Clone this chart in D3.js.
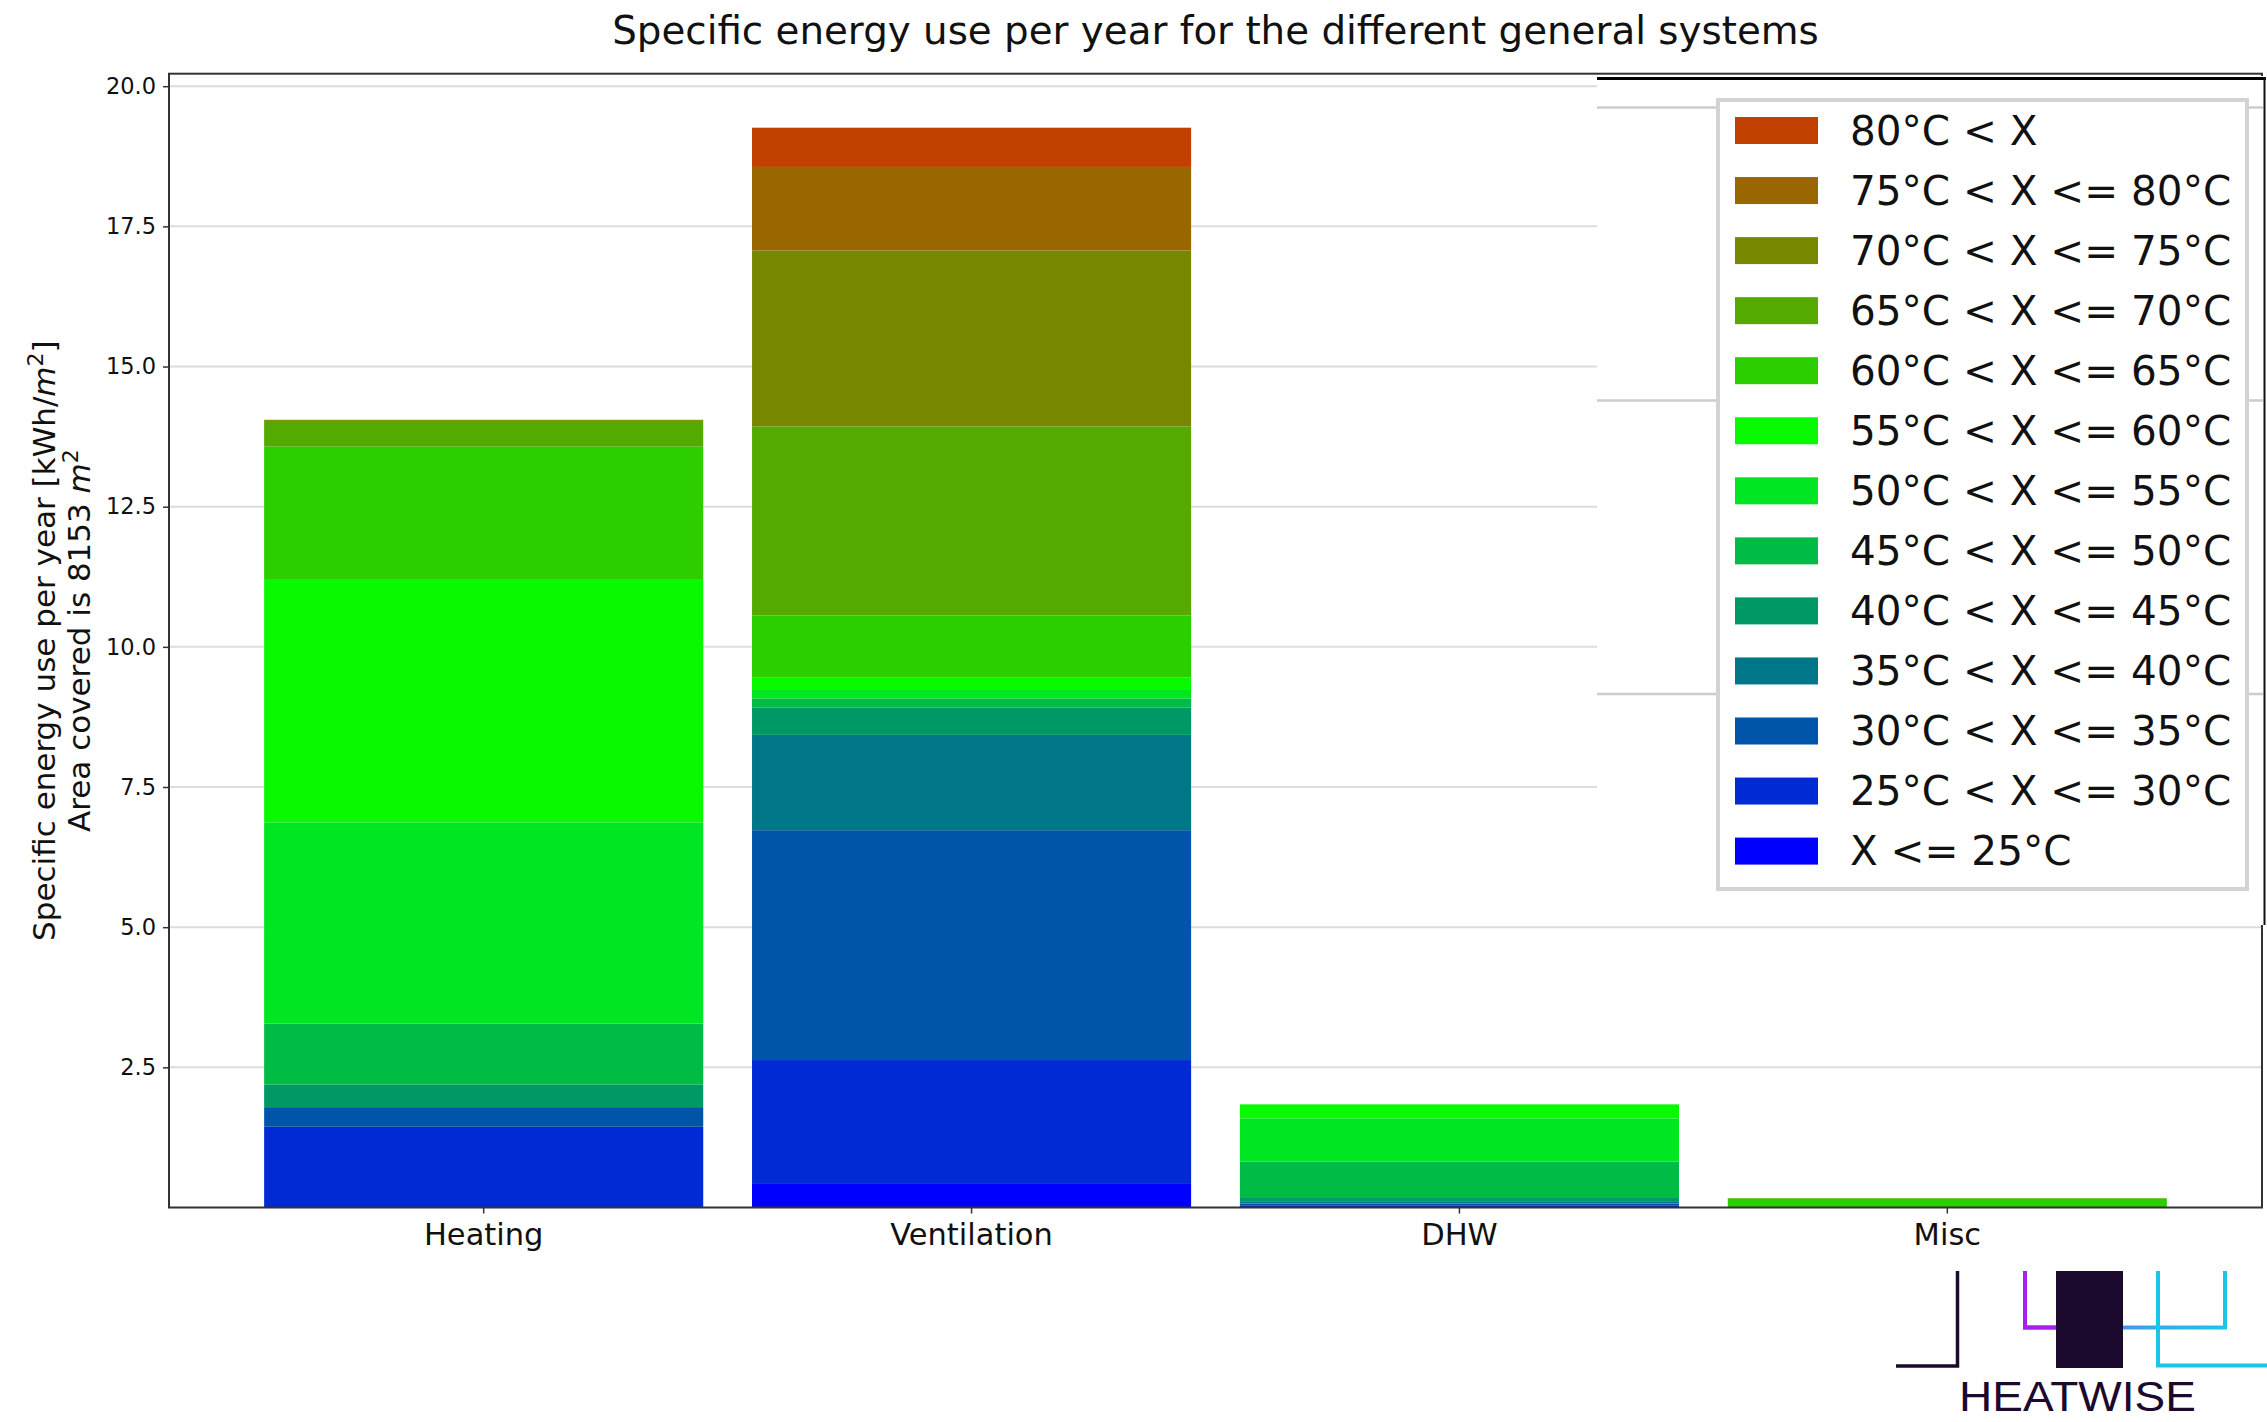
<!DOCTYPE html>
<html>
<head>
<meta charset="utf-8">
<script src="https://cdn.jsdelivr.net/npm/d3@7"></script>
<style>
  html, body { margin: 0; padding: 0; background: #fff; }
  svg { display: block; font-family: "DejaVu Sans", sans-serif; }
</style>
</head>
<body>
<div id="chart"></div>
<script>
// values, kWh/m2 per temperature band (bottom of stack first)
const categories = ['Heating', 'Ventilation', 'DHW', 'Misc'];
const bins = [
  'X <= 25°C', '25°C < X <= 30°C', '30°C < X <= 35°C', '35°C < X <= 40°C',
  '40°C < X <= 45°C', '45°C < X <= 50°C', '50°C < X <= 55°C', '55°C < X <= 60°C',
  '60°C < X <= 65°C', '65°C < X <= 70°C', '70°C < X <= 75°C', '75°C < X <= 80°C',
  '80°C < X'
];
const binColors = [
  '#0000ff', '#002ad4', '#0055aa', '#007788', '#009966', '#00bb44', '#00e622',
  '#08f900', '#2dce00', '#55aa00', '#778800', '#996600', '#c04000'
];
const heating     = [0, 1.44, 0.35, 0, 0.40, 1.09, 3.59, 4.34, 2.36, 0.46, 0.02, 0, 0];
const ventilation = [0.42, 2.21, 4.10, 1.70, 0.49, 0.16, 0.15, 0.22, 1.11, 3.37, 3.14, 1.49, 0.70];
const dhw         = [0, 0.03, 0.04, 0.03, 0.07, 0.65, 0.77, 0.25, 0, 0, 0, 0, 0];
const misc        = [0, 0, 0, 0, 0, 0, 0, 0, 0.16, 0.01, 0, 0, 0];
const yTicks = [2.5, 5, 7.5, 10, 12.5, 15, 17.5, 20];

const W = 2267, H = 1422;
const plot = { left: 169, right: 2262, top: 73.7, bottom: 1207.5 };

const seriesBySystem = { Heating: heating, Ventilation: ventilation, DHW: dhw, Misc: misc };
const table = categories.map((c) => {
  const row = { system: c };
  bins.forEach((b, i) => { row[b] = seriesBySystem[c][i]; });
  return row;
});
const stacked = d3.stack().keys(bins)(table);
const maxTotal = d3.max(table, (r) => d3.sum(bins, (b) => r[b]));

const x = d3.scaleBand()
  .domain(categories)
  .range([plot.left, plot.right])
  .paddingInner(0.1)
  .paddingOuter(0.195);

const y = d3.scaleLinear()
  .domain([0, maxTotal * 1.05])
  .range([plot.bottom, plot.top]);

const color = d3.scaleOrdinal().domain(bins).range(binColors);

const svg = d3.select('#chart').append('svg')
  .attr('width', W).attr('height', H);

// grid
svg.append('g').selectAll('line')
  .data(yTicks).enter().append('line')
  .attr('x1', plot.left).attr('x2', plot.right)
  .attr('y1', (d) => y(d)).attr('y2', (d) => y(d))
  .attr('stroke', '#dcdcdc').attr('stroke-width', 2);

// bars
svg.append('g').selectAll('g')
  .data(stacked).enter().append('g')
  .attr('fill', (d) => color(d.key))
  .selectAll('rect')
  .data((d) => d).enter().append('rect')
  .attr('x', (d) => x(d.data.system))
  .attr('width', x.bandwidth())
  .attr('y', (d) => y(d[1]))
  .attr('height', (d) => Math.max(0, y(d[0]) - y(d[1])));

// axes
const yAxis = d3.axisLeft(y).tickValues(yTicks).tickFormat(d3.format('.1f')).tickSizeOuter(0).tickSize(6).tickPadding(7);
const gy = svg.append('g').attr('transform', `translate(${plot.left},0)`).call(yAxis);
gy.select('.domain').remove();
gy.selectAll('.tick line').attr('stroke', '#333').attr('stroke-width', 1.5);
gy.selectAll('.tick text').attr('font-size', 22.5).attr('fill', '#111')
  .attr('font-family', 'DejaVu Sans');

const xAxis = d3.axisBottom(x).tickSizeOuter(0).tickSize(6).tickPadding(10);
const gx = svg.append('g').attr('transform', `translate(0,${plot.bottom})`).call(xAxis);
gx.select('.domain').remove();
gx.selectAll('.tick line').attr('stroke', '#333').attr('stroke-width', 1.5);
gx.selectAll('.tick text').attr('font-size', 30.5).attr('fill', '#111')
  .attr('font-family', 'DejaVu Sans');

// frame
svg.append('rect')
  .attr('x', plot.left).attr('y', plot.top)
  .attr('width', plot.right - plot.left).attr('height', plot.bottom - plot.top)
  .attr('fill', 'none').attr('stroke', '#333').attr('stroke-width', 2);

// title
svg.append('text')
  .attr('x', (plot.left + plot.right) / 2).attr('y', 44)
  .attr('text-anchor', 'middle').attr('font-size', 38.8).attr('fill', '#111')
  .text('Specific energy use per year for the different general systems');

// y label (two lines)
const yc = (plot.top + plot.bottom) / 2;
const yl1 = svg.append('text')
  .attr('transform', `translate(55,${yc}) rotate(-90)`)
  .attr('text-anchor', 'middle').attr('font-size', 31).attr('fill', '#111');
yl1.append('tspan').text('Specific energy use per year [kWh/');
yl1.append('tspan').attr('font-style', 'italic').text('m');
yl1.append('tspan').attr('font-size', 22).attr('dy', -12).text('2');
yl1.append('tspan').attr('dy', 12).text(']');

const yl2 = svg.append('text')
  .attr('transform', `translate(90,${yc}) rotate(-90)`)
  .attr('text-anchor', 'middle').attr('font-size', 31).attr('fill', '#111');
yl2.append('tspan').text('Area covered is 8153 ');
yl2.append('tspan').attr('font-style', 'italic').text('m');
yl2.append('tspan').attr('font-size', 22).attr('dy', -12).text('2');

// legend panel (pasted in over the upper right of the axes)
const panel = svg.append('g');
panel.append('rect').attr('x', 1597).attr('y', 76).attr('width', W - 1597).attr('height', 925 - 76)
  .attr('fill', '#fff');
panel.selectAll('line.pg').data([107.5, 400.5, 694]).enter().append('line')
  .attr('class', 'pg')
  .attr('x1', 1597).attr('x2', 2263).attr('y1', (d) => d).attr('y2', (d) => d)
  .attr('stroke', '#cccccc').attr('stroke-width', 2.5);
panel.append('line').attr('x1', 1597).attr('x2', 2266).attr('y1', 78.5).attr('y2', 78.5)
  .attr('stroke', '#000').attr('stroke-width', 3);
panel.append('line').attr('x1', 2264.5).attr('x2', 2264.5).attr('y1', 77).attr('y2', 925)
  .attr('stroke', '#111').attr('stroke-width', 2);

panel.append('rect').attr('x', 1718).attr('y', 100).attr('width', 529).attr('height', 789)
  .attr('fill', '#fff').attr('stroke', '#d3d3d3').attr('stroke-width', 4);

const legendBins = bins.slice().reverse();
const leg = panel.selectAll('g.leg').data(legendBins).enter().append('g')
  .attr('class', 'leg')
  .attr('transform', (d, i) => `translate(1735,${130.5 + i * 60.05})`);
leg.append('rect').attr('x', 0).attr('y', -13.5).attr('width', 83).attr('height', 27)
  .attr('fill', (d) => color(d));
leg.append('text').attr('x', 115).attr('y', 14).attr('font-size', 40.5).attr('fill', '#111')
  .text((d) => d);

// logo
const logo = svg.append('g');
const defs = svg.append('defs');
const grad = defs.append('linearGradient').attr('id', 'lg').attr('gradientUnits', 'userSpaceOnUse')
  .attr('x1', 2023).attr('x2', 2227).attr('y1', 0).attr('y2', 0);
grad.append('stop').attr('offset', '0%').attr('stop-color', '#a91ff2');
grad.append('stop').attr('offset', '55%').attr('stop-color', '#3fa0e8');
grad.append('stop').attr('offset', '100%').attr('stop-color', '#19c6ea');
logo.append('path').attr('d', 'M1957.5,1271 V1366 H1896')
  .attr('fill', 'none').attr('stroke', '#1b0a2e').attr('stroke-width', 3.5);
logo.append('path').attr('d', 'M2025,1271 V1327.5 H2225 V1271')
  .attr('fill', 'none').attr('stroke', 'url(#lg)').attr('stroke-width', 4);
logo.append('path').attr('d', 'M2025,1271 V1327.5 H2060')
  .attr('fill', 'none').attr('stroke', '#a91ff2').attr('stroke-width', 4);
logo.append('path').attr('d', 'M2158,1271 V1365.5 H2267')
  .attr('fill', 'none').attr('stroke', '#19c6ea').attr('stroke-width', 4);
logo.append('rect').attr('x', 2056).attr('y', 1271).attr('width', 67).attr('height', 97)
  .attr('fill', '#1b0a2e');
logo.append('text').attr('x', 2077.5).attr('y', 1411).attr('text-anchor', 'middle')
  .attr('font-family', 'Liberation Sans, Arial, sans-serif').attr('font-size', 43)
  .attr('fill', '#1b0a2e').attr('textLength', 237).attr('lengthAdjust', 'spacingAndGlyphs')
  .text('HEATWISE');
</script>
</body>
</html>
